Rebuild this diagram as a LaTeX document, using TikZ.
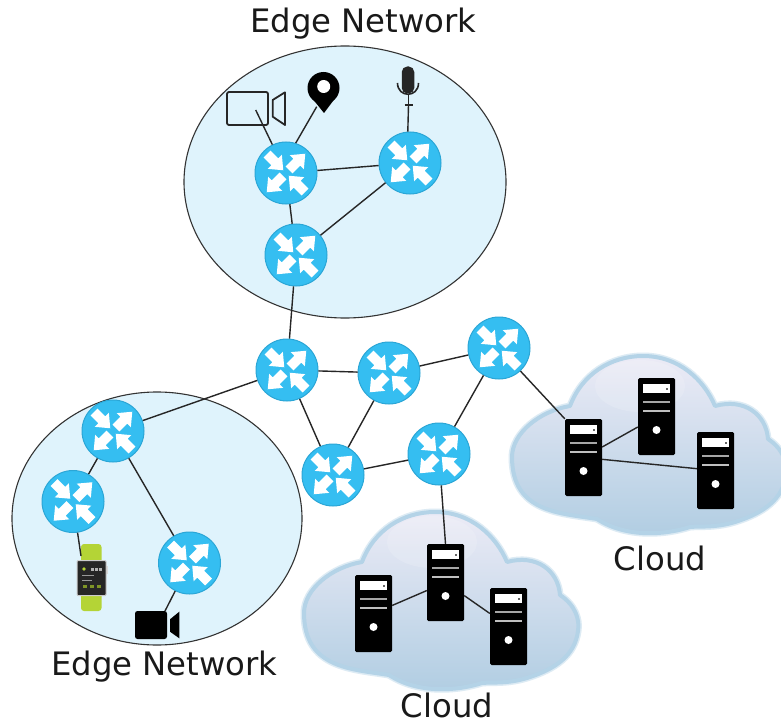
\documentclass[tikz,border=0pt]{standalone}
\usepackage{fontspec}
\usetikzlibrary{shapes.geometric}
\setmainfont{DejaVu Sans}
\definecolor{edgefill}{HTML}{DFF3FC}
\definecolor{routerblue}{HTML}{35BEF1}
\definecolor{routerline}{HTML}{2BA6D6}
\definecolor{cloudtop}{HTML}{ECEBF6}
\definecolor{cloudbot}{HTML}{B0CDE2}
\definecolor{cloudline}{HTML}{B4D3E7}
\definecolor{strapgreen}{HTML}{B4D436}
\tikzset{
  edgenet/.style={ellipse,draw=black!80,line width=1.1pt,fill=edgefill,inner sep=0pt},
  router/.style={circle,minimum size=62pt,inner sep=0pt,fill=routerblue,draw=routerline,line width=1pt},
  srv/.style={rectangle,rounded corners=1.5pt,minimum width=37pt,minimum height=77pt,inner sep=0pt,fill=black},
  link/.style={draw=black!85,line width=1.4pt},
  lbl/.style={font=\fontsize{32.3}{36}\selectfont,text=black!90,inner sep=0pt},
  pics/routerarrows/.style={code={
    \foreach \sx/\sy/\ang in {-19/-19/-45, 3/-3/45, -3/3/225, 19/19/135}{
      \fill[white,shift={(\sx,\sy)},rotate=\ang]
        (0,-4.8) -- (11,-4.8) -- (11,-10) -- (23,0) -- (11,10) -- (11,4.8) -- (0,4.8) -- cycle;
    }
  }},
  pics/serverfront/.style={code={
    \fill[white] (-13.5,-32.5) rectangle (13.5,-23.5);
    \fill[black!60] (9,-28.5) rectangle (11,-26.5);
    \fill[black!35!white] (-13.5,-15.5) rectangle (13.5,-13.5);
    \fill[black!25!white] (-13.5,-6.5) rectangle (13.5,-4.5);
    \fill[white] (0,13.5) circle (4);
  }},
  pics/cloudshape/.style={code={
    \def\cloudcurve{
      (512,457) .. controls (512,433) and (540,411) .. (570,406)
      .. controls (582,374) and (611,356) .. (643,356)
      .. controls (679,356) and (704,380) .. (715,406)
      .. controls (744,398) and (766,414) .. (768,439)
      .. controls (783,449) and (788,463) .. (786,475)
      .. controls (783,499) and (764,513) .. (735,522)
      .. controls (715,528) and (700,526) .. (690,527)
      .. controls (665,535) and (626,538) .. (597,519)
      .. controls (561,513) and (512,513) .. (512,457) -- cycle}
    \draw[cloudline,opacity=.45,line width=7pt,line join=round] \cloudcurve;
    \path[top color=cloudtop,bottom color=cloudbot,draw=cloudline,line width=4pt,line join=round] \cloudcurve;
    \fill[white,opacity=.15] (640,386) ellipse (45 and 26);
  }}
}
\newcommand{\routerat}[3]{\node[router] (#1) at (#2,#3) {}; \pic at (#1) {routerarrows};}
\newcommand{\serverat}[3]{\node[srv] (#1) at (#2,#3) {}; \pic at (#1) {serverfront};}
\begin{document}
\begin{tikzpicture}[x=1pt,y=-1pt]
\useasboundingbox (0,0) rectangle (781,722);
\clip (0,0) rectangle (781,722);
\fill[white] (0,0) rectangle (781,722);

% clouds
\pic at (0,0) {cloudshape};
\pic at (-208,156) {cloudshape};

% edge networks
\node[edgenet,minimum width=322pt,minimum height=272pt] (edgeA) at (345,182) {};
\node[edgenet,minimum width=290pt,minimum height=253pt] (edgeB) at (157,518.5) {};

% free connector ends inside the icons
\coordinate (camin) at (255.7,110);
\coordinate (pinend) at (316.7,106.7);
\coordinate (micend) at (408.5,105);
\coordinate (watchin) at (81,556);
\coordinate (vcamin) at (165,611);

% routers and servers are placed first so that the links start at their rims
\routerat{r1}{286}{173}
\routerat{r2}{410}{163}
\routerat{r3}{296}{255}
\routerat{r4}{287}{370}
\routerat{r5}{389}{373}
\routerat{r6}{499}{348}
\routerat{r7}{333}{475}
\routerat{r8}{439}{454}
\routerat{r9}{113}{431}
\routerat{r10}{73}{501.5}
\routerat{r11}{189.5}{563}

\serverat{sa}{583.5}{457.5}
\serverat{sb}{656.5}{416.5}
\serverat{sc}{715.5}{470.5}
\serverat{sd}{373.5}{613.5}
\serverat{se}{445.5}{582.5}
\serverat{sf}{508.5}{626.5}

% camera outline
\node[draw=black!85,line width=1.8pt,rounded corners=2pt,minimum width=41pt,minimum height=33pt,inner sep=0pt] (cam) at (247.5,108.5) {};
\draw[black!85,line width=1.8pt,line join=round] (272.7,100) -- (285,92.3) -- (285,125) -- (272.7,116.7) -- cycle;

% location pin
\node[circle,fill=black,minimum size=32pt,inner sep=0pt] (pin) at (323.5,88) {};
\fill[black] (309.5,95) -- (324,113) -- (337.5,95) -- cycle;
\fill[white] (323.7,86.5) circle (6.5);

% microphone
\node[rectangle,rounded corners=5.5pt,fill=black!85,minimum width=12.5pt,minimum height=27pt,inner sep=0pt] (mic) at (408,80) {};
\draw[black!85,line width=1.6pt] (397.5,83) .. controls (397.5,98) and (418.5,98) .. (418.5,83);
\draw[black!85,line width=1.6pt] (408.5,94) -- (408.5,105);
\draw[black!85,line width=1.8pt] (404.5,105) -- (412.5,105);

% watch
\fill[strapgreen,rounded corners=3pt] (81,544) rectangle (101.5,611);
\fill[black!15] (106,566) rectangle (108,574);
\node[rectangle,fill=black!85,draw=black!20,line width=1pt,rounded corners=1pt,minimum width=29pt,minimum height=35pt,inner sep=0pt] (watch) at (91.5,578) {};
\fill[strapgreen] (84,569) circle (1.8);
\foreach \wx in {91,95,99}{\fill[black!30] (\wx,567.5) rectangle ++(2.5,3);}
\fill[black!40] (82,574.5) rectangle (94,575.5);
\fill[black!40] (82,579.5) rectangle (92,580.5);
\foreach \wx in {83,90,97}{\fill[strapgreen!70!black] (\wx,585) rectangle ++(4,3);}

% video camera
\node[rectangle,fill=black,rounded corners=2.5pt,minimum width=32pt,minimum height=28pt,inner sep=0pt] (vcam) at (151,625) {};
\fill[black] (170,619.3) -- (179.3,611.7) -- (179.3,638.3) -- (170,631.7) -- cycle;

% links
\draw[link] (r1) -- (camin);
\draw[link] (r1.72) -- (pinend);
\draw[link] (r2.94) -- (micend);
\draw[link] (r1) -- (r2);
\draw[link] (r1) -- (r3);
\draw[link] (r2) -- (r3);
\draw[link] (r3) -- (r4);
\draw[link] (r4) -- (r5);
\draw[link] (r5) -- (r6);
\draw[link] (r4) -- (r7);
\draw[link] (r5) -- (r7);
\draw[link] (r7) -- (r8);
\draw[link] (r8) -- (r6);
\draw[link] (r4) -- (r9);
\draw[link] (r9) -- (r10);
\draw[link] (r9) -- (r11);
\draw[link] (r10) -- (watchin);
\draw[link] (r11) -- (vcamin);
\draw[link] (r6) -- (sa.north west);
\draw[link] (sa) -- (sb);
\draw[link] (sa) -- (sc);
\draw[link] (r8) -- (se.north);
\draw[link] (sd) -- (se);
\draw[link] (se) -- (sf);

% labels
\node[lbl] (lblA) at (363.5,24) {Edge Network};
\node[lbl] (lblB) at (164.5,667) {Edge Network};
\node[lbl] (lblC) at (660,558) {Cloud};
\node[lbl] (lblD) at (447,705.5) {Cloud};
\end{tikzpicture}
\end{document}
